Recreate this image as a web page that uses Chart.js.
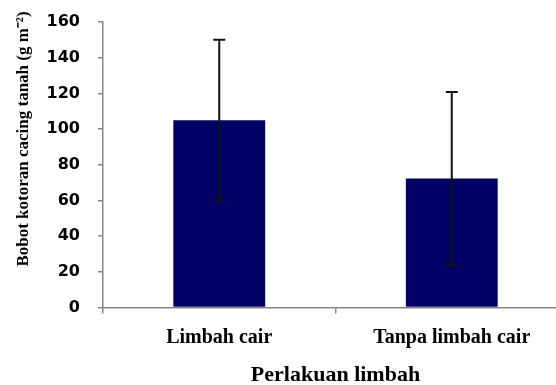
<!DOCTYPE html>
<html>
<head>
<meta charset="utf-8">
<script src="https://cdn.jsdelivr.net/npm/chart.js@4.4.1/dist/chart.umd.min.js"></script>
<style>
  html, body { margin: 0; padding: 0; background: #fff; overflow: hidden; }
  #wrap { width: 556px; height: 385px; overflow: hidden; position: relative; }
  canvas { display: block; }
</style>
</head>
<body>
<div id="wrap"><canvas id="chart" width="568" height="400"></canvas></div>
<script>
(function() {
  'use strict';

  var categories = ['Limbah cair', 'Tanpa limbah cair'];
  var means = [105, 72.3];
  var errors = [45, 48.5];
  var yTicks = [0, 20, 40, 60, 80, 100, 120, 140, 160];
  var yTitle = 'Bobot kotoran cacing tanah (g m\u207B\u00B2)';

  var axisColor = '#868686';
  var serifBold = { family: '"Liberation Serif", "Times New Roman", serif', weight: 'bold' };

  // whiskers drawn from the y scale, one per bar
  var errorBars = {
    id: 'errorBars',
    afterDatasetsDraw: function(chart) {
      var ctx = chart.ctx;
      var y = chart.scales.y;
      var meta = chart.getDatasetMeta(0);
      ctx.save();
      ctx.strokeStyle = '#111';
      ctx.lineWidth = 2;
      meta.data.forEach(function(bar, i) {
        var top = y.getPixelForValue(means[i] + errors[i]);
        var bottom = y.getPixelForValue(means[i] - errors[i]);
        ctx.beginPath();
        ctx.moveTo(bar.x, top);
        ctx.lineTo(bar.x, bottom);
        ctx.moveTo(bar.x - 6, top);
        ctx.lineTo(bar.x + 6, top);
        ctx.moveTo(bar.x - 6, bottom);
        ctx.lineTo(bar.x + 6, bottom);
        ctx.stroke();
      });
      ctx.restore();
    }
  };

  // y title sits a bit above the plot centre in the original, so draw it here
  var yTitlePlugin = {
    id: 'yTitle',
    afterDraw: function(chart) {
      var ctx = chart.ctx;
      var area = chart.chartArea;
      ctx.save();
      ctx.translate(24, area.top + 117);
      ctx.rotate(-Math.PI / 2);
      ctx.font = 'bold 17px "Liberation Serif", "Times New Roman", serif';
      ctx.fillStyle = '#000';
      ctx.textAlign = 'center';
      ctx.textBaseline = 'middle';
      ctx.fillText(yTitle, 0, 0);
      ctx.restore();
    }
  };

  new Chart(document.getElementById('chart'), {
    type: 'bar',
    data: {
      labels: categories,
      datasets: [{
        data: means,
        backgroundColor: '#000066',
        borderWidth: 0,
        barPercentage: 0.395,
        categoryPercentage: 1
      }]
    },
    options: {
      responsive: false,
      animation: false,
      devicePixelRatio: 1,
      layout: { padding: { top: 22, left: 0, right: 0, bottom: 0 } },
      plugins: { legend: { display: false }, tooltip: { enabled: false } },
      scales: {
        x: {
          afterFit: function(scale) { scale.height = 92.5; },
          grid: { display: true, drawOnChartArea: false, offset: true, tickLength: 6, color: axisColor, lineWidth: 1.5 },
          border: { color: axisColor, width: 1.5 },
          ticks: { color: '#000', padding: 12, font: Object.assign({ size: 20 }, serifBold) },
          title: { display: true, text: 'Perlakuan limbah', color: '#000', padding: { top: 0, bottom: 11 }, font: Object.assign({ size: 22 }, serifBold) }
        },
        y: {
          min: 0,
          max: 160,
          afterFit: function(scale) {
            scale.width = 103;
            scale.paddingTop = 0;
            scale.paddingBottom = 0;
          },
          afterBuildTicks: function(scale) {
            scale.ticks = yTicks.map(function(v) { return { value: v }; });
          },
          grid: { display: true, drawOnChartArea: false, tickLength: 5, color: axisColor, lineWidth: 1.5 },
          border: { color: axisColor, width: 1.5 },
          ticks: { color: '#000', padding: 18, font: { family: '"DejaVu Sans", sans-serif', weight: 'bold', size: 16 } },
          title: { display: false }
        }
      }
    },
    plugins: [errorBars, yTitlePlugin]
  });
})();
</script>
</body>
</html>
